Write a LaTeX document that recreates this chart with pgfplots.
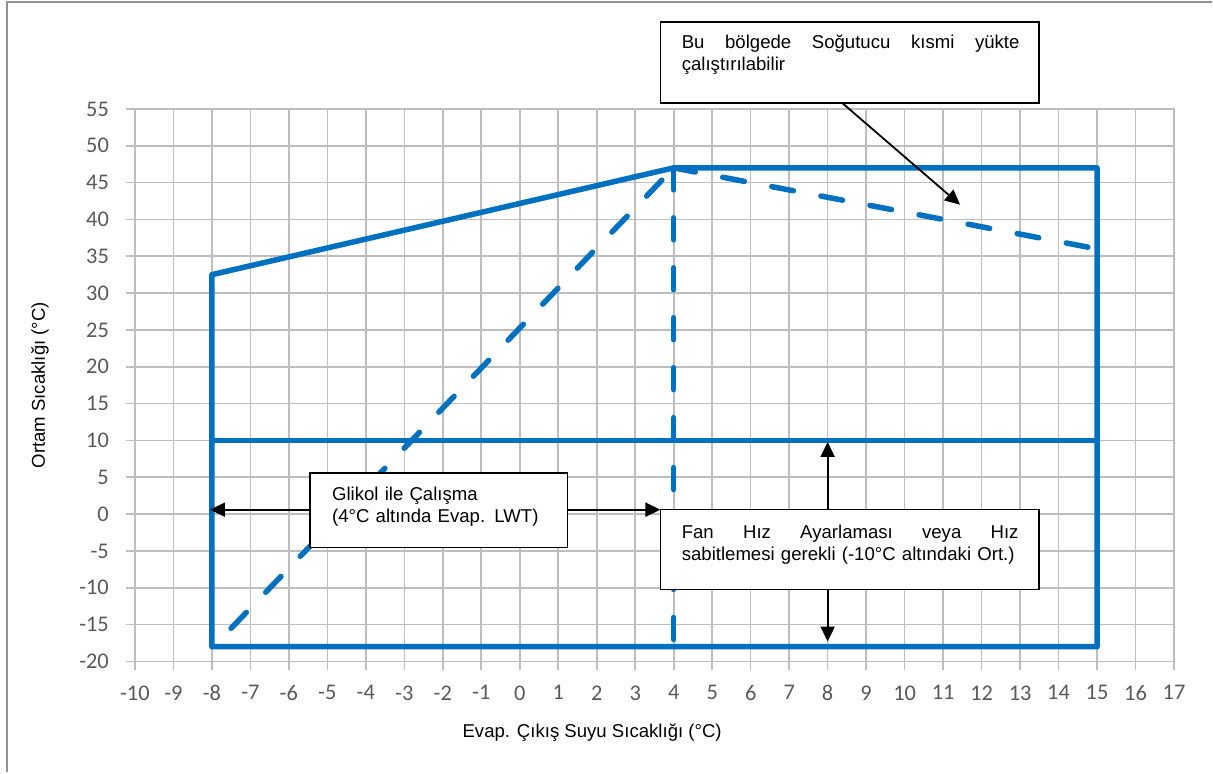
\documentclass[border=0pt]{standalone}
\usepackage{fontspec}
\setmainfont{Liberation Sans}
\newfontfamily\calibri{Carlito}
\usepackage{pgfplots}
\pgfplotsset{compat=1.18}
\usetikzlibrary{arrows.meta}
\definecolor{xlblue}{HTML}{0070C0}
\definecolor{gridgray}{HTML}{BEBEBE}
\definecolor{ticktext}{HTML}{595959}
\begin{document}
\begin{tikzpicture}
\path (0,0) rectangle (606.5pt,386.5pt);
\begin{axis}[
    at={(67.5pt,55.5pt)}, anchor=south west,
    scale only axis, width=520pt, height=276.5pt,
    xmin=-10, xmax=17, ymin=-20, ymax=55,
    xtick={-10,...,17}, ytick={-20,-15,...,55},
    grid=major, grid style={gridgray, line width=0.8pt},
    axis line style={gridgray, line width=0.8pt},
    tick align=outside, tick pos=left, major tick length=4.5pt,
    tick style={gridgray, line width=0.8pt},
    ticklabel style={font=\calibri\fontsize{11.2}{12}\selectfont, text=ticktext},
    xticklabel style={yshift=-4pt},
    yticklabel style={xshift=-5pt},
    /pgf/number format/assume math mode=true,
    clip=false,
    xlabel={Evap. Çıkış Suyu Sıcaklığı (°C)},
    ylabel={Ortam Sıcaklığı (°C)},
    label style={font=\fontsize{9.3}{11}\selectfont},
    xlabel style={at={(axis description cs:0.44,-0.1284)}, anchor=center},
    ylabel style={at={(axis description cs:-0.0913,0.5)}, anchor=center},
]
% operating envelope
\addplot[xlblue, line width=2.75pt, line join=round, line cap=round]
    coordinates {(-8,-18) (-8,32.5) (4,47) (15,47) (15,-18) (-8,-18)};
\addplot[xlblue, line width=2.75pt] coordinates {(-8,10) (15,10)};
% dashed limits
\addplot[xlblue, line width=2.75pt, line cap=round, dash pattern=on 11pt off 14pt]
    coordinates {(-7.5,-15.5) (4,47)};
\addplot[xlblue, line width=2.75pt, line cap=round, dash pattern=on 11pt off 14pt]
    coordinates {(4,47) (15,36)};
\addplot[xlblue, line width=2.75pt, line cap=round, dash pattern=on 11pt off 14pt]
    coordinates {(4,47) (4,-18)};

% notes
\tikzset{note/.style={draw=black, line width=0.9pt, fill=white},
         arr/.style={line width=0.9pt, -{Triangle[length=7.5pt,width=7pt]}},
         txt/.style={inner sep=0pt, anchor=base west, text width=200pt, align=left,
                     font=\fontsize{9.3}{11}\selectfont}}
\draw[note] (axis cs:3.655,55.8) rectangle (axis cs:13.49,66.8);
\node[txt] at (axis cs:4.2,63.14)
    {\hbox to 169pt{Bu\hfill bölgede\hfill Soğutucu\hfill kısmi\hfill yükte}\\çalıştırılabilir};
\draw[arr] (axis cs:8.38,55.8) -- (axis cs:11.44,42.0);

\draw[arr] (axis cs:-5.457,0.6) -- (axis cs:-8.05,0.6);
\draw[arr] (axis cs:1.241,0.6) -- (axis cs:3.655,0.6);
\draw[note] (axis cs:-5.457,5.63) rectangle (axis cs:1.241,-4.54);
\node[txt] at (axis cs:-4.886,1.877)
    {Glikol ile Çalışma\\(4°C altında Evap. LWT)};

\draw[arr] (axis cs:8,0.62) -- (axis cs:8,9.8);
\draw[arr] (axis cs:8,-10.23) -- (axis cs:8,-17.3);
\draw[note] (axis cs:3.655,0.62) rectangle (axis cs:13.49,-10.23);
\node[txt] at (axis cs:4.2,-3.32)
    {\hbox to 168.5pt{Fan\hfill Hız\hfill Ayarlaması\hfill veya\hfill Hız}\\sabitlemesi gerekli (-10°C altındaki Ort.)};
\end{axis}
\draw[gray!85, line width=1pt] (3.5pt,0pt) -- (3.5pt,385.3pt) -- (606.5pt,385.3pt);
\end{tikzpicture}
\end{document}
